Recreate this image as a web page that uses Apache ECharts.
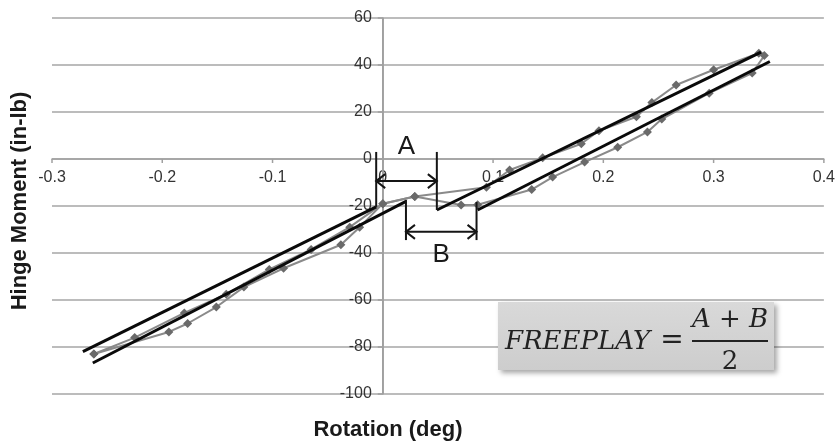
<!DOCTYPE html>
<html><head><meta charset="utf-8">
<script src="https://cdn.jsdelivr.net/npm/echarts@6/dist/echarts.min.js"></script>
<style>html,body{margin:0;padding:0;background:#fff}#c{width:838px;height:442px}</style>
</head><body><div id="c"></div>
<script>
// Measured hysteresis data (rotation in deg, hinge moment in in-lb)
const rotationLoading = [-0.262,-0.225,-0.180,-0.142,-0.103,-0.065,-0.030,0.000,0.029,0.094,0.115,0.145,0.180,0.196,0.230,0.244,0.266,0.300,0.341];
const momentLoading   = [-83,-76,-65.5,-57.5,-47,-38.5,-29,-19,-16,-12,-4.7,0.5,6.5,12,18,24,31.5,38,45];
const rotationUnloading = [0.346,0.335,0.296,0.253,0.240,0.213,0.183,0.154,0.135,0.086,0.071,0.029,0.000,-0.021,-0.038,-0.090,-0.126,-0.151,-0.177,-0.194,-0.262];
const momentUnloading   = [44,36.6,28,17,11.5,5,-1.3,-7.7,-13,-19.5,-19.6,-16,-19,-29,-36.5,-46.5,-54.5,-63,-70,-73.6,-83];

// Linear fit lines: [start, end]
const fitRotation = [[-0.272,-0.006],[-0.263,0.021],[0.049,0.343],[0.086,0.351]];
const fitMoment   = [[-82,-20.4],[-86.8,-18],[-21.7,45.5],[-21.7,41.5]];

// Freeplay gap annotations
const gapNames = ['A','B'];
const gapStart = [-0.006, 0.021];
const gapEnd   = [0.049, 0.085];
const gapArrowMoment = [-9.4, -31];
const gapStartTop = [3, -17.4];
const gapStartBottom = [-20.4, -34.5];
const gapEndTop = [3, -18.3];
const gapEndBottom = [-21.7, -34.5];
const gapLabelMoment = [5.1, -40.9];

// Axis ranges and ticks
const xRange = [-0.3, 0.4];
const yRange = [-100, 60];
const xTickValues = [-0.3,-0.2,-0.1,0,0.1,0.2,0.3,0.4];
const yTickValues = [-100,-80,-60,-40,-20,0,20,40,60];
const yTickLabels = ['-100','-80','-60','-40','-20','0','20','40','60'];

const W = 838, H = 442;
const gridBox = {left:52, right:12, top:18, bottom:48};
const plotH = H - gridBox.top - gridBox.bottom;
// x axis (with its labels) placed at moment 0
const xAxisOffset = -(0 - yRange[0]) / (yRange[1] - yRange[0]) * plotH;

const chart = echarts.init(document.getElementById('c'));
const fmtX = v => { const r = Math.round(v*10)/10; return r === 0 ? '0' : String(r); };
const axisGray = '#a0a0a0';
const labelFont = '16px "Liberation Sans", Arial, sans-serif';

const series = [];
// vertical axis line at rotation 0
series.push({
  type:'line', z:1, silent:true, symbol:'none',
  data: [[0, yRange[0]], [0, yRange[1]]],
  lineStyle:{color:axisGray, width:1.5}
});
// labels of the vertical axis at rotation 0
series.push({
  type:'custom', z:1, silent:true,
  data: yTickValues.map(v=>[0, v]),
  renderItem: function(params, api){
    const p = api.coord([api.value(0), api.value(1)]);
    return {type:'text', style:{text:yTickLabels[params.dataIndex], x:p[0]-11, y:p[1], align:'right', verticalAlign:'middle', font:labelFont, fill:'#333'}};
  }
});
series.push({
  type:'line', data: rotationLoading.map((x,i)=>[x, momentLoading[i]]),
  symbol:'diamond', symbolSize:9, showAllSymbol:true,
  itemStyle:{color:'#6a6a6a'}, lineStyle:{color:'#8a8a8a', width:2}, z:2
});
series.push({
  type:'line', data: rotationUnloading.map((x,i)=>[x, momentUnloading[i]]),
  symbol:'diamond', symbolSize:9, showAllSymbol:true,
  itemStyle:{color:'#6a6a6a'}, lineStyle:{color:'#8a8a8a', width:2}, z:2
});
fitRotation.forEach((xs,k)=>{
  series.push({
    type:'line', data: xs.map((x,i)=>[x, fitMoment[k][i]]),
    symbol:'none', lineStyle:{color:'#0a0a0a', width:3}, z:3
  });
});
series.push({
  type:'custom', z:4,
  data: gapNames.map((n,i)=>[gapStart[i], gapEnd[i], gapArrowMoment[i], gapStartTop[i], gapStartBottom[i], gapEndTop[i], gapEndBottom[i], gapLabelMoment[i]]),
  renderItem: function(params, api){
    const x1 = api.value(0), x2 = api.value(1), ya = api.value(2);
    const a = api.coord([x1, ya]), b = api.coord([x2, ya]);
    const s1 = api.coord([x1, api.value(3)]), s2 = api.coord([x1, api.value(4)]);
    const e1 = api.coord([x2, api.value(5)]), e2 = api.coord([x2, api.value(6)]);
    const lab = api.coord([(x1+x2)/2, api.value(7)]);
    const h = 9, v = 7;
    const st = {stroke:'#151515', lineWidth:2, fill:null};
    return {type:'group', children:[
      {type:'polyline', shape:{points:[s1,s2]}, style:st},
      {type:'polyline', shape:{points:[e1,e2]}, style:st},
      {type:'polyline', shape:{points:[a,b]}, style:st},
      {type:'polyline', shape:{points:[[a[0]+h,a[1]-v],a,[a[0]+h,a[1]+v]]}, style:st},
      {type:'polyline', shape:{points:[[b[0]-h,b[1]-v],b,[b[0]-h,b[1]+v]]}, style:st},
      {type:'text', style:{text:gapNames[params.dataIndex], x:lab[0], y:lab[1], align:'center', verticalAlign:'middle',
        font:'26px "Liberation Sans", Arial, sans-serif', fill:'#1a1a1a'}}
    ]};
  }
});

const staticGraphics = [
  {type:'text', x:20, y:201, rotation:Math.PI/2, z:10,
    style:{text:'Hinge Moment (in-lb)', align:'center', verticalAlign:'middle', font:'bold 22px "Liberation Sans", Arial, sans-serif', fill:'#1a1a1a'}},
  {type:'text', x:388, y:430, z:10,
    style:{text:'Rotation (deg)', align:'center', verticalAlign:'middle', font:'bold 22px "Liberation Sans", Arial, sans-serif', fill:'#1a1a1a'}},
  {type:'group', z:20, children:[
    {type:'rect', shape:{x:498, y:302, width:276, height:68},
      style:{fill:new echarts.graphic.LinearGradient(0,0,0,1,[{offset:0,color:'#d9d9d9'},{offset:1,color:'#cdcdcd'}]), shadowBlur:5, shadowOffsetX:3, shadowOffsetY:3, shadowColor:'rgba(0,0,0,0.35)'}},
    {type:'text', x:505, y:342, style:{text:'FREEPLAY', align:'left', verticalAlign:'middle', font:'italic 26px "DejaVu Serif", serif', fill:'#222'}},
    {type:'text', x:672, y:341, style:{text:'=', align:'center', verticalAlign:'middle', font:'28px "DejaVu Serif", serif', fill:'#222'}},
    {type:'text', x:730, y:320, style:{text:'A + B', align:'center', verticalAlign:'middle', font:'italic 26px "DejaVu Serif", serif', fill:'#222'}},
    {type:'line', shape:{x1:692, y1:341, x2:768, y2:341}, style:{stroke:'#222', lineWidth:2}},
    {type:'text', x:730, y:362, style:{text:'2', align:'center', verticalAlign:'middle', font:'26px "DejaVu Serif", serif', fill:'#222'}}
  ]}
];

chart.setOption({
  animation:false,
  backgroundColor:'#fff',
  grid:{left:gridBox.left, right:gridBox.right, top:gridBox.top, bottom:gridBox.bottom, containLabel:false},
  xAxis:{
    type:'value', min:xRange[0], max:xRange[1], interval:0.1,
    position:'bottom', offset:xAxisOffset,
    axisLine:{onZero:false, lineStyle:{color:axisGray, width:1.5}},
    axisTick:{show:false},
    axisLabel:{formatter:fmtX, margin:11, color:'#333', fontSize:16, fontFamily:'"Liberation Sans", Arial, sans-serif', showMinLabel:true, showMaxLabel:true},
    splitLine:{show:false}
  },
  yAxis:{
    type:'value', min:yRange[0], max:yRange[1], interval:20,
    position:'left',
    axisLine:{show:true, onZero:true, lineStyle:{color:axisGray, width:1.5}},
    axisTick:{show:false},
    axisLabel:{show:false},
    splitLine:{show:true, lineStyle:{color:'#a6a6a6', width:1.5}}
  },
  series: series,
  graphic: staticGraphics
});

// axis line through rotation 0 and tick marks, positioned through the chart's own scales
const toPx = v => chart.convertToPixel({gridIndex:0}, v);
const axisEls = [];
const pb = toPx([0, yRange[0]]), pt = toPx([0, yRange[1]]);
axisEls.push({type:'line', z:1, silent:true, shape:{x1:pb[0], y1:pb[1], x2:pt[0], y2:pt[1]}, style:{stroke:axisGray, lineWidth:1.5}});
yTickValues.forEach(v=>{
  const p = toPx([0, v]);
  axisEls.push({type:'line', z:1, silent:true, shape:{x1:p[0]-5, y1:p[1], x2:p[0], y2:p[1]}, style:{stroke:axisGray, lineWidth:1.5}});
});
xTickValues.forEach(v=>{
  const p = toPx([v, 0]);
  axisEls.push({type:'line', z:1, silent:true, shape:{x1:p[0], y1:p[1], x2:p[0], y2:p[1]+4}, style:{stroke:axisGray, lineWidth:1.5}});
});
chart.setOption({graphic: staticGraphics.concat(axisEls)}, {replaceMerge:['graphic']});
</script>
</body></html>
